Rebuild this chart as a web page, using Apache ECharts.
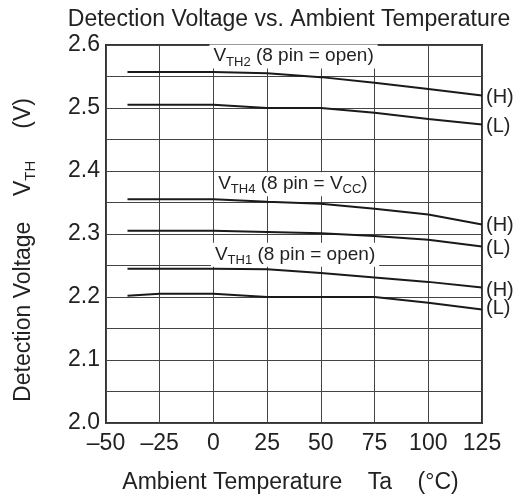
<!DOCTYPE html>
<html>
<head>
<meta charset="utf-8">
<script src="https://cdn.jsdelivr.net/npm/echarts@6/dist/echarts.min.js"></script>
<style>
html,body{margin:0;padding:0;background:#fff;}
#chart{width:528px;height:501px;}
</style>
</head>
<body>
<div id="chart"></div>
<script>
const temps = [-40, -25, 0, 25, 50, 75, 100, 125];
const vth2H = [2.557, 2.557, 2.557, 2.555, 2.549, 2.540, 2.530, 2.520];
const vth2L = [2.505, 2.505, 2.505, 2.500, 2.500, 2.4925, 2.4825, 2.474];
const vth4H = [2.355, 2.355, 2.355, 2.351, 2.348, 2.340, 2.331, 2.315];
const vth4L = [2.305, 2.305, 2.305, 2.303, 2.301, 2.297, 2.291, 2.280];
const vth1H = [2.245, 2.245, 2.245, 2.244, 2.238, 2.231, 2.224, 2.215];
const vth1L = [2.202, 2.205, 2.205, 2.200, 2.200, 2.200, 2.191, 2.180];
const xTicks = [-50, -25, 0, 25, 50, 75, 100, 125];
const yTicks = [2.0, 2.1, 2.2, 2.3, 2.4, 2.5, 2.6];
const curveConds = [' (8 pin = open)', ' (8 pin = V', ' (8 pin = open)'];

const FONT = '"Liberation Sans", Arial, Helvetica, sans-serif';
const TXT = '#222';

function pairs(ys){ return temps.map((t,i)=>[t, ys[i]]); }

function lineSeries(name, ys, endText, off){
  return {
    name: name, type: 'line', data: pairs(ys), symbol: 'none', smooth: false,
    lineStyle: {color: '#1a1a1a', width: 2},
    endLabel: {show: true, formatter: endText, color: TXT, fontFamily: FONT, fontSize: 20, distance: 4, offset: off},
    z: 3
  };
}

const richAnn = {
  v: {fontSize: 19, fontFamily: FONT, color: TXT, verticalAlign: 'bottom', padding: [0, 0, 3, 0]},
  s: {fontSize: 13, fontFamily: FONT, color: TXT, verticalAlign: 'bottom'}
};

const annFormatters = [
  '{v|V}{s|TH2}{v|' + curveConds[0] + '}',
  '{v|V}{s|TH4}{v|' + curveConds[1] + '}{s|CC}{v|)}',
  '{v|V}{s|TH1}{v|' + curveConds[2] + '}'
];

const chart = echarts.init(document.getElementById('chart'), null, {renderer: 'canvas'});
const series = [
  lineSeries('VTH2 H', vth2H, '(H)', [0, 2]),
  lineSeries('VTH2 L', vth2L, '(L)', [0, 2]),
  lineSeries('VTH4 H', vth4H, '(H)', [0, 1]),
  lineSeries('VTH4 L', vth4L, '(L)', [0, 2]),
  lineSeries('VTH1 H', vth1H, '(H)', [0, 3]),
  lineSeries('VTH1 L', vth1L, '(L)', [0, -1]),
  {
    name: 'labels', type: 'scatter', symbol: 'circle', symbolSize: 1,
    itemStyle: {color: 'rgba(0,0,0,0)', opacity: 1}, silent: true, z: 10,
    data: [[37.3, 2.5817], [37.0, 2.379], [38.0, 2.267]].map((p, i) => ({
      value: p,
      label: {show: true, position: 'inside', formatter: annFormatters[i]}
    })),
    label: {show: true, position: 'inside', color: TXT, opacity: 1, backgroundColor: '#fff', padding: [2, 4, 0, 4], rich: richAnn}
  }
];

chart.setOption({
  animation: false,
  backgroundColor: '#fff',
  title: {
    text: 'Detection Voltage vs. Ambient Temperature',
    left: 284, top: 3, textAlign: 'center',
    textStyle: {fontSize: 23, fontWeight: 'normal', color: TXT, fontFamily: FONT}
  },
  grid: {left: 106, right: 46, top: 45, bottom: 78, show: true, borderColor: '#333', borderWidth: 2, backgroundColor: 'transparent'},
  xAxis: {
    type: 'value', min: -50, max: 125, interval: 25,
    name: 'Ambient Temperature    Ta    (°C)', nameLocation: 'middle', nameGap: 48,
    nameTextStyle: {fontSize: 23, color: TXT, fontFamily: FONT, padding: [0, 7, 0, 0]},
    axisLine: {show: false}, axisTick: {show: false},
    axisLabel: {fontSize: 23, color: TXT, fontFamily: FONT, margin: 9,
      formatter: v => (xTicks.indexOf(v) >= 0 ? String(v).replace('-', '\u2013') : '')},
    splitLine: {show: true, lineStyle: {color: '#444', width: 1}}
  },
  yAxis: {
    type: 'value', min: 2.0, max: 2.6, interval: 0.05,
    name: '{a|Detection Voltage    V}{s|TH}{a|     (V)}', nameLocation: 'middle', nameGap: 68,
    nameTextStyle: {color: TXT, fontFamily: FONT, padding: [0, 32, 0, 0],
      rich: {a: {fontSize: 23, fontFamily: FONT, color: TXT, verticalAlign: 'bottom', padding: [0,0,3,0]}, s: {fontSize: 15, fontFamily: FONT, color: TXT, verticalAlign: 'bottom'}}},
    axisLine: {show: false}, axisTick: {show: false},
    axisLabel: {fontSize: 23, color: TXT, fontFamily: FONT, margin: 6,
      formatter: v => { const r = Math.round(v * 10) / 10; return (Math.abs(r - v) < 1e-6 && yTicks.some(t => Math.abs(t - r) < 1e-6)) ? r.toFixed(1) : ''; }},
    splitLine: {show: true, lineStyle: {color: '#444', width: 1}}
  },
  series: series
});
</script>
</body>
</html>
